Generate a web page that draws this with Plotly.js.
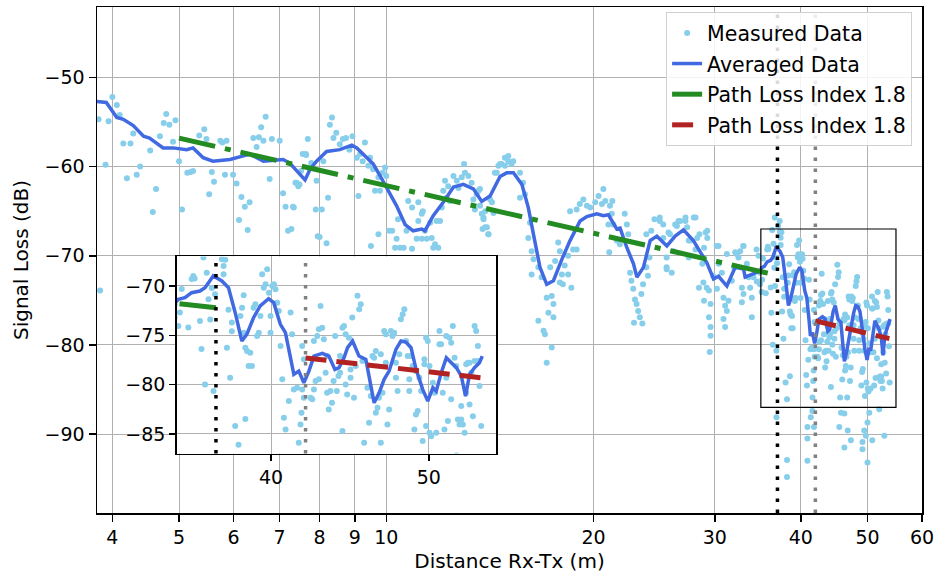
<!DOCTYPE html>
<html><head><meta charset="utf-8">
<script src="https://cdn.plot.ly/plotly-3.0.1.min.js"></script>
<style>html,body{margin:0;padding:0;background:#fff}#chart{width:936px;height:573px}</style>
</head><body><div id="chart"></div>
<script>
// ---- data ----
const xTickVals = [4,5,6,7,8,9,10,20,30,40,50,60];
const xTickText = ['4','5','6','7','8','9','10','20','30','40','50','60'];
const insetXTickVals = [40,50];
const insetXTickText = ['40','50'];

// measured samples [distance m, loss dB]
const measured = [
[3.82,-54.7],[4.0,-52.2],[4.06,-53.1],[3.95,-54.9],[3.91,-59.8],[4.1,-54.2],[4.15,-57.4],[4.25,-57.4],[4.2,-61.3],[4.29,-56.3],
[4.34,-60.9],[4.39,-60.0],[4.54,-58.2],[4.58,-65.1],[4.63,-62.5],[4.69,-56.6],[4.75,-55.1],[4.79,-54.1],[4.84,-55.3],[4.9,-57.2],
[4.94,-54.8],[5.0,-59.4],[5.05,-64.8],[3.84,-73.9],
[5.14,-60.7],[5.2,-60.6],[5.24,-60.5],[5.35,-56.5],[5.44,-55.8],[5.48,-56.9],[5.53,-63.1],[5.58,-60.6],[5.62,-61.7],[5.74,-57.1],
[5.78,-57.3],[5.86,-57.1],[5.83,-60.9],[5.99,-60.9],[6.06,-61.9],[6.11,-66.0],[6.16,-63.4],[6.23,-64.5],[6.29,-67.1],[6.33,-64.0],
[6.41,-56.8],[6.48,-57.8],[6.53,-56.7],[6.58,-55.6],[6.63,-57.1],[6.68,-54.4],[6.82,-56.9],[6.77,-61.4],[7.0,-57.1],[7.08,-63.0],
[7.14,-64.5],[7.2,-67.2],[7.32,-64.5],[7.38,-61.8],[7.48,-62.0],[7.56,-58.6],[7.65,-58.7],[7.69,-56.9],[7.9,-64.8],[7.95,-67.8],[7.92,-61.6],
[7.28,-67.0],[7.34,-64.6],[7.41,-61.8],[7.45,-62.2],[7.52,-60.5],[7.64,-58.6],[7.78,-59.6],[8.06,-64.8],[8.0,-67.9],[8.19,-68.6],
[8.1,-59.4],[8.23,-63.5],[8.28,-55.3],[8.34,-54.5],[8.38,-56.8],[8.46,-56.2],[8.56,-57.5],[8.65,-56.9],[8.74,-56.8],[8.84,-58.1],
[8.93,-56.6],[9.06,-59.0],[9.11,-63.3],[9.16,-58.6],[9.24,-59.4],[9.31,-57.3],[9.42,-59.9],[9.47,-59.0],[9.57,-60.3],[9.63,-62.7],
[9.74,-61.2],[9.79,-62.7],[9.74,-67.6],[9.88,-60.7],[9.96,-60.1],[10.0,-61.05],[10.1,-67.2],[10.2,-67.2],[10.3,-69.1],[10.35,-68.1],
[10.4,-65.9],[10.47,-69.1],[10.6,-69.1],[10.7,-67.2],[10.76,-63.85],[10.9,-64.6],[11.13,-64.0],[11.13,-66.1],[11.26,-65.3],[11.3,-65.0],
[11.07,-68.1],[11.26,-68.1],[11.38,-67.2],[11.45,-68.1],[11.58,-66.3],[11.64,-68.0],[11.7,-69.1],[11.77,-68.7],[11.83,-66.1],[11.9,-69.1],
[11.97,-66.1],[12.04,-64.6],[12.1,-62.7],[12.17,-61.6],[12.24,-63.5],[12.3,-62.2],[12.37,-63.85],[12.52,-61.05],[12.66,-61.6],[12.73,-62.4],
[12.87,-61.2],[12.97,-59.7],[13.01,-60.7],[13.16,-61.05],[13.3,-61.8],[13.38,-63.7],[13.53,-63.1],[13.61,-62.7],[13.45,-64.8],[13.68,-64.4],
[13.76,-65.3],[13.84,-65.9],[14.0,-66.8],[13.8,-67.0],[14.06,-67.6],[13.92,-65.0],[14.15,-63.7],[14.38,-60.7],[14.55,-59.9],[14.7,-59.7],
[14.87,-59.9],[15.04,-59.4],[9.5,-68.9],[10.9,-69.2],
[13.68,-62.5],[13.84,-65.7],[13.92,-66.8],[14.08,-67.6],[14.31,-65.2],[14.24,-64.0],[14.47,-60.7],[14.63,-59.7],[14.87,-59.0],[15.04,-58.8],
[15.2,-59.7],[15.29,-59.4],[15.64,-60.7],[15.8,-61.8],[15.9,-63.1],[15.64,-63.5],[16.17,-66.3],[16.08,-68.0],[16.26,-69.5],[16.36,-70.4],
[16.26,-72.1],[16.63,-71.3],[16.81,-72.4],[17.1,-74.7],[17.39,-74.5],[17.49,-75.4],[17.3,-71.3],[17.59,-70.6],[17.2,-76.4],[17.49,-76.9],
[16.63,-77.3],[16.92,-78.4],[17.0,-78.8],[17.39,-80.3],[17.1,-82.0],[17.77,-68.5],[17.87,-69.5],[17.99,-72.1],[17.87,-73.0],[18.05,-73.2],
[18.16,-71.1],[18.37,-70.0],[18.37,-72.1],[18.57,-73.6],[18.68,-69.3],[18.9,-69.3],[18.49,-65.0],[18.9,-64.8],[19.1,-64.2],[19.33,-63.7],
[19.56,-64.4],[19.78,-64.6],[20.11,-64.0],[20.34,-63.3],[20.57,-64.2],[20.67,-62.5],[20.8,-63.85],[21.13,-64.4],[21.3,-63.85],[21.26,-65.3],
[21.37,-66.5],[21.02,-66.5],[21.08,-69.6],[21.62,-68.3],[21.84,-68.7],[22.2,-65.3],[22.36,-66.5],[22.46,-67.6],[22.6,-71.9],[22.7,-72.8],
[22.84,-73.7],[22.97,-74.9],[23.1,-75.4],[23.22,-76.2],[23.35,-76.9],[22.9,-77.5],[23.55,-77.6],[23.47,-74.3],[23.6,-73.2],[23.86,-71.3],
[23.99,-72.25],[24.12,-70.2],[23.86,-67.6],[24.26,-67.2],[24.52,-65.9],[24.96,-66.1],[25.25,-68.0],[25.54,-70.2],[25.54,-71.5],[25.98,-71.9],
[26.13,-69.5],[25.83,-67.6],[26.43,-66.65],[26.73,-66.1],[27.2,-66.1],[27.5,-68.3],[27.5,-70.2],
[24.96,-65.7],[25.25,-66.5],[25.7,-67.4],[25.54,-71.3],[26.28,-66.5],[26.58,-66.1],[27.2,-65.7],[27.35,-66.8],[27.97,-65.7],[27.66,-68.3],
[28.13,-69.3],[28.29,-68.0],[29.1,-67.4],[29.26,-68.0],[28.78,-70.9],[28.46,-73.6],[28.88,-73.0],[28.94,-75.05],[29.42,-73.9],[29.58,-75.4],
[29.42,-76.9],[29.58,-78.0],[29.58,-78.97],[29.5,-80.8],[29.83,-72.25],[30.22,-73.7],[30.38,-68.9],[30.72,-71.9],[30.89,-74.7],[31.06,-75.6],
[30.89,-77.1],[31.24,-76.2],[31.06,-78.0],[31.41,-75.05],[31.76,-72.8],[32.12,-69.6],[32.48,-70.2],[32.66,-69.5],[33.03,-68.9],[32.85,-73.6],
[33.03,-74.3],[32.85,-75.2],[33.96,-76.9],[33.77,-73.6],[33.96,-74.7],[34.15,-72.4],[34.53,-72.9],[34.72,-70.0],[34.9,-73.2],
[28.13,-65.7],[28.5,-67.6],[29.26,-67.2],[28.94,-69.1],[30.2,-68.9],[30.4,-70.9],[31.24,-69.8],[32.0,-71.3],[32.3,-69.8],[33.0,-68.9],
[33.4,-70.9],[33.6,-72.4],[34.5,-69.3],[34.9,-71.9],[29.2,-73.6],
[36.67,-65.7],[37.08,-66.65],[37.28,-66.1],[36.88,-88.1],[38.2,-92.9],[38.2,-94.8],
[41.58,-87.4],[41.36,-88.1],[40.9,-89.2],[40.9,-90.5],[40.9,-93.0],[41.81,-89.2],[45.76,-87.6],[46.28,-87.7],[45.5,-89.2],[46.28,-91.5],
[46.8,-89.6],[47.3,-90.7],[50.3,-87.6],[50.0,-88.7],[49.45,-89.6],[49.72,-90.2],[49.17,-90.9],[49.17,-91.7],[50.0,-93.2],[50.8,-90.7],
[52.9,-90.2],[52.0,-87.2],
[35.08,-74.06],[35.58,-74.2],[35.16,-72.7],[35.25,-70.3],[35.83,-68.98],[35.9,-69.25],[35.75,-69.3],[36.17,-73.55],[36.25,-76.4],[36.35,-67.1],
[36.52,-68.65],[36.61,-71.35],[36.7,-73.4],[36.78,-70.2],[36.87,-80.65],[36.95,-70.85],[37.31,-67.3],[37.4,-67.97],[37.49,-67.35],[37.4,-68.8],
[36.43,-79.98],[37.58,-76.26],[37.66,-72.4],[37.75,-79.3],[37.84,-73.7],[37.84,-74.6],[38.02,-84.21],[38.2,-86.1],[38.3,-73.04],[38.39,-72.2],
[38.48,-70.95],[38.48,-74.75],[38.57,-83.5],[38.57,-76.26],[38.66,-76.6],[38.75,-78.12],[38.84,-76.76],[38.93,-78.12],[39.02,-72.2],[39.12,-71.86],
[39.22,-75.07],[39.31,-74.74],[39.4,-73.04],[39.5,-68.8],[39.59,-70.17],[39.69,-69.83],[39.78,-68.3],[39.88,-70.68],[39.97,-73.04],[40.07,-70.0],
[40.16,-69.83],[40.25,-70.34],[40.35,-71.69],[39.97,-74.74],[40.44,-72.54],[40.54,-76.09],[40.64,-79.47],[40.73,-83.36],[40.83,-84.55],[41.02,-81.67],
[41.12,-72.7],[41.21,-74.9],[41.31,-80.49],[41.5,-80.32],[41.6,-85.9],[41.7,-84.04],[41.8,-76.09],[41.8,-80.49],[41.9,-77.44],[41.9,-81.33],
[41.76,-82.86],[42.3,-81.33],[42.4,-81.5],[42.5,-75.58],[42.6,-79.64],[42.7,-75.07],[42.8,-74.4],[42.9,-72.03],[43.0,-74.23],[43.1,-75.41],
[43.21,-78.8],[43.3,-77.1],[43.4,-82.52],[43.5,-80.66],[43.6,-81.84],[43.7,-79.64],[43.8,-75.07],[43.9,-80.66],[44.0,-79.14],[44.1,-77.1],
[44.25,-84.72],[44.25,-74.23],[44.35,-74.06],[44.45,-74.9],[44.55,-81.0],[44.66,-75.24],[44.76,-79.3],[44.87,-73.2],[44.98,-81.33],[45.2,-71.0],
[45.31,-72.37],[45.41,-71.86],[45.52,-77.6],[45.63,-85.9],[45.84,-80.32],[45.95,-83.87],[46.06,-81.17],[46.17,-77.1],[46.28,-77.27],[46.39,-82.86],
[46.5,-82.35],[46.6,-81.33],[46.72,-85.9],[46.83,-80.83],[46.94,-74.57],[47.05,-74.9],[47.16,-84.04],[47.27,-82.52],[47.39,-74.57],[47.5,-75.07],
[47.61,-74.74],[47.73,-77.78],[47.84,-80.66],[47.96,-76.93],[48.07,-73.38],[48.19,-72.87],[48.3,-72.37],[48.42,-75.58],[48.53,-77.1],[48.64,-79.47],
[48.76,-77.1],[48.87,-78.12],[48.99,-84.55],[49.1,-83.03],[49.22,-82.69],[49.34,-79.3],[49.46,-80.66],[49.57,-85.73],[49.69,-77.44],[49.81,-84.21],
[49.93,-75.58],[50.05,-84.89],[50.17,-85.23],[50.29,-79.81],[50.41,-80.83],[50.53,-84.89],[50.76,-74.57],[50.88,-75.92],[51.0,-80.83],[51.12,-84.55],
[51.25,-75.07],[51.37,-83.7],[51.49,-75.24],[51.61,-75.75],[51.73,-74.06],[51.86,-77.27],[51.98,-78.12],[52.1,-83.53],[52.22,-84.04],[52.35,-82.18],
[52.47,-84.04],[52.6,-84.89],[52.72,-80.83],[52.85,-77.78],[52.97,-82.01],[53.1,-78.8],[53.22,-83.2],[53.35,-74.06],[53.47,-74.57],[53.6,-76.09],
[53.72,-80.15],[53.85,-84.21],[53.6,-77.6],[52.72,-77.95],[52.97,-77.78],[49.81,-75.24],[42.8,-79.47],[43.3,-80.83],[42.5,-80.49],[44.1,-78.8],
[44.45,-79.98],[44.76,-78.46],[45.09,-78.12],[46.39,-76.6],[46.72,-76.93],[47.05,-77.78],[47.73,-79.3],[48.64,-80.66],[49.1,-78.63],[49.69,-77.95],
[50.05,-78.12],[50.76,-75.92],[51.25,-79.3],[51.61,-81.5],[52.35,-83.53],[53.35,-77.6]
];

// averaged curve [distance m, loss dB]
const averaged = [
[3.80,-52.7],[3.92,-52.8],[4.06,-54.5],[4.15,-54.7],[4.29,-55.4],[4.44,-56.6],[4.53,-56.8],[4.74,-57.9],[4.90,-57.9],[5.13,-58.1],
[5.24,-57.9],[5.42,-59.0],[5.60,-59.4],[5.93,-59.2],[6.20,-58.8],[6.34,-58.6],[6.63,-59.4],[7.08,-59.2],[7.24,-59.6],[7.41,-60.4],
[7.62,-61.5],[7.75,-60.3],[7.92,-59.4],[8.19,-58.3],[8.56,-58.1],[8.91,-57.6],[9.06,-57.9],[9.37,-59.0],[9.57,-59.7],[9.79,-61.0],
[10.13,-63.1],[10.35,-64.4],[10.65,-66.5],[10.94,-67.2],[11.26,-67.0],[11.38,-67.2],[11.70,-65.5],[12.10,-64.0],[12.52,-62.3],[12.94,-62.0],
[13.38,-62.5],[13.76,-63.9],[14.15,-63.3],[14.63,-61.1],[14.96,-60.7],[15.30,-60.7],[15.74,-62.0],[16.08,-64.6],[16.36,-67.6],[16.72,-71.3],
[17.10,-73.2],[17.49,-72.8],[17.99,-70.4],[18.49,-68.3],[19.12,-66.1],[19.56,-65.6],[20.22,-65.3],[20.67,-65.5],[21.02,-65.4],[21.62,-67.0],
[21.86,-66.9],[22.36,-69.1],[22.86,-70.9],[23.12,-72.4],[23.63,-71.3],[24.17,-68.3],[24.72,-67.8],[25.56,-68.9],[26.28,-67.8],[27.02,-67.1],
[27.93,-68.3],[28.58,-69.6],[29.22,-70.8],[29.88,-72.6],[30.38,-72.3],[31.24,-73.4],[32.12,-71.3],[33.03,-71.5],[33.21,-72.4],[33.96,-72.1],
[34.93,-71.7],[35.08,-71.35],[35.41,-71.19],[35.75,-70.68],[36.17,-70.51],[36.43,-70.17],[36.86,-68.98],[37.31,-69.49],[37.66,-70.17],[38.02,-72.71],
[38.38,-75.58],[38.65,-74.9],[39.02,-73.22],[39.39,-72.03],[39.86,-71.29],[40.15,-71.69],[40.53,-73.89],[40.82,-74.74],[41.11,-77.11],[41.31,-78.97],
[41.60,-78.63],[41.90,-79.82],[42.20,-78.63],[42.50,-77.11],[43.01,-76.83],[43.41,-77.11],[43.78,-78.46],[44.04,-78.29],[44.35,-77.28],[44.57,-76.26],
[44.89,-75.58],[45.30,-77.11],[45.74,-77.45],[46.06,-80.15],[46.28,-81.85],[46.61,-80.83],[46.94,-79.47],[47.27,-78.63],[47.73,-76.43],[48.07,-75.58],
[48.41,-75.69],[48.76,-76.26],[49.11,-78.46],[49.57,-80.49],[49.93,-81.68],[50.29,-80.32],[50.53,-80.66],[50.89,-78.8],[51.26,-77.28],[51.62,-77.79],
[51.99,-78.29],[52.36,-79.14],[52.67,-81.17],[52.97,-78.97],[53.34,-78.29],[53.72,-77.79],[53.93,-77.11]
];

const fitNearX = [5, 37];
const fitNearY = [-56.8, -72.2];
const fitFarX = [42, 53.8];
const fitFarY = [-77.3, -79.3];
const boundaryX = [37, 42];
const zoomX = [35, 55];
const zoomY = [-87, -67];
const legendNames = ['Measured Data', 'Averaged Data', 'Path Loss Index 1.8', 'Path Loss Index 1.8'];

// ---- build ----
const mX = measured.map(p => p[0]), mY = measured.map(p => p[1]);
const aX = averaged.map(p => p[0]), aY = averaged.map(p => p[1]);

function makeTraces(xa, ya, show) {
  return [
    {x: mX, y: mY, type: 'scatter', mode: 'markers', name: legendNames[0], xaxis: xa, yaxis: ya,
     marker: {color: '#87CEEB', size: 6}, showlegend: show, legendgroup: 'g1'},
    {x: aX, y: aY, type: 'scatter', mode: 'lines', name: legendNames[1], xaxis: xa, yaxis: ya,
     line: {color: '#4169E1', width: 3.5}, showlegend: show, legendgroup: 'g2'},
    {x: fitNearX, y: fitNearY, type: 'scatter', mode: 'lines', name: legendNames[2], xaxis: xa, yaxis: ya,
     line: {color: '#228B22', width: 5, dash: '37px,10px,6px,10px'}, showlegend: show, legendgroup: 'g3'},
    {x: fitFarX, y: fitFarY, type: 'scatter', mode: 'lines', name: legendNames[3], xaxis: xa, yaxis: ya,
     line: {color: '#B22222', width: 5, dash: '21px,10px'}, showlegend: show, legendgroup: 'g4'}
  ];
}
const data = makeTraces('x', 'y', true).concat(makeTraces('x2', 'y2', false));

const axisCommon = {
  showgrid: true, gridcolor: '#b0b0b0', gridwidth: 1, zeroline: false,
  showline: true, mirror: true, linecolor: 'black', linewidth: 1.5,
  ticks: 'outside', tickcolor: 'black', tickwidth: 1.5,
  tickfont: {family: 'DejaVu Sans', size: 19, color: 'black'}
};

const shapes = [
  {type: 'rect', xref: 'x', yref: 'y', x0: zoomX[0], x1: zoomX[1], y0: zoomY[0], y1: zoomY[1],
   line: {color: 'black', width: 1.2}, layer: 'above'},
  {type: 'line', xref: 'x', yref: 'y domain', x0: boundaryX[0], x1: boundaryX[0], y0: 0, y1: 1,
   line: {color: 'black', width: 3.5, dash: '3.5px,7.5px'}, layer: 'above'},
  {type: 'line', xref: 'x', yref: 'y domain', x0: boundaryX[1], x1: boundaryX[1], y0: 0, y1: 1,
   line: {color: 'gray', width: 3.5, dash: '3.5px,7.5px'}, layer: 'above'},
  {type: 'line', xref: 'x2', yref: 'y2 domain', x0: boundaryX[0], x1: boundaryX[0], y0: 0, y1: 1,
   line: {color: 'black', width: 3.5, dash: '3.5px,7.5px'}, layer: 'above'},
  {type: 'line', xref: 'x2', yref: 'y2 domain', x0: boundaryX[1], x1: boundaryX[1], y0: 0, y1: 1,
   line: {color: 'gray', width: 3.5, dash: '3.5px,7.5px'}, layer: 'above'}
];

const layout = {
  width: 936, height: 573,
  margin: {l: 97, r: 14, t: 7, b: 60, pad: 0},
  paper_bgcolor: 'white', plot_bgcolor: 'white',
  font: {family: 'DejaVu Sans', size: 19, color: 'black'},
  showlegend: true,
  legend: {x: 0.988, y: 0.99, xanchor: 'right', yanchor: 'top',
           bgcolor: 'rgba(255,255,255,0.85)', bordercolor: '#d0d0d0', borderwidth: 1,
           font: {family: 'DejaVu Sans', size: 20.5, color: 'black'},
           traceorder: 'grouped', tracegroupgap: 1},
  xaxis: Object.assign({}, axisCommon, {
    type: 'log', range: [Math.log10(3.8), Math.log10(60)], domain: [0, 1], anchor: 'y',
    tickmode: 'array', tickvals: xTickVals, ticktext: xTickText, ticklen: 7,
    title: {text: 'Distance Rx-Tx (m)', font: {family: 'DejaVu Sans', size: 20, color: 'black'}, standoff: 8}
  }),
  yaxis: Object.assign({}, axisCommon, {
    range: [-98.85, -42.1], domain: [0, 1], anchor: 'x', tick0: -50, dtick: 10, ticklen: 7,
    title: {text: 'Signal Loss (dB)', font: {family: 'DejaVu Sans', size: 20, color: 'black'}, standoff: 10}
  }),
  xaxis2: Object.assign({}, axisCommon, {
    type: 'log', range: [Math.log10(zoomX[0]), Math.log10(zoomX[1])], domain: [0.0966, 0.4838], anchor: 'y2',
    tickmode: 'array', tickvals: insetXTickVals, ticktext: insetXTickText, ticklen: 6
  }),
  yaxis2: Object.assign({}, axisCommon, {
    range: [zoomY[0], zoomY[1]], domain: [0.1174, 0.5071], anchor: 'x2', tick0: -85, dtick: 5, ticklen: 6
  }),
  shapes: shapes
};

Plotly.newPlot('chart', data, layout, {displayModeBar: false, staticPlot: true});
</script>
</body></html>
